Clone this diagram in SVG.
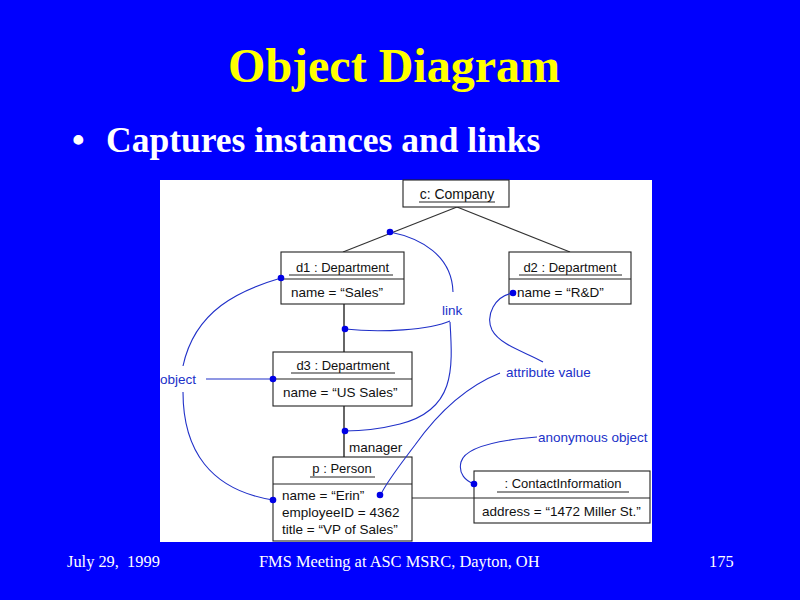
<svg xmlns="http://www.w3.org/2000/svg" width="800" height="600" viewBox="0 0 800 600">
<style>
.box{fill:#fff;stroke:#222;stroke-width:1.1}
.div{stroke:#222;stroke-width:1.1}
.ul{stroke:#222;stroke-width:1}
.t{font-family:"Liberation Sans",Arial,sans-serif;font-size:13.5px;fill:#111}
.tt{font-family:"Liberation Sans",Arial,sans-serif;font-size:13px;fill:#111;text-anchor:middle}
.lab{font-family:"Liberation Sans",Arial,sans-serif;font-size:13.5px;fill:#2030c8}
.link{stroke:#333;stroke-width:1.2;fill:none}
.vlink{stroke:#666;stroke-width:2;fill:none}
.ann{stroke:#2030c8;stroke-width:1.1;fill:none}
.dot{fill:#0000e6}
.foot{font-family:"Liberation Serif","Times New Roman",serif;font-size:16.4px;fill:#fff}
</style>
<rect x="0" y="0" width="800" height="600" fill="#0000fe"/>
<text x="394" y="82" text-anchor="middle" font-family="Liberation Serif,'Times New Roman',serif" font-weight="bold" font-size="48" fill="#ffff00">Object Diagram</text>
<text x="72" y="152" font-family="Liberation Serif,'Times New Roman',serif" font-weight="bold" font-size="36" fill="#fff">•</text>
<text x="106" y="152" font-family="Liberation Serif,'Times New Roman',serif" font-weight="bold" font-size="35.5" fill="#fff">Captures instances and links</text>
<rect x="160" y="180" width="492" height="362" fill="#fff"/>

<g id="connectors">
<line class="link" x1="457" y1="207" x2="343" y2="252"/>
<line class="link" x1="457" y1="207" x2="570" y2="252"/>
<line class="vlink" x1="344" y1="304" x2="344" y2="352"/>
<line class="vlink" x1="344" y1="406" x2="344" y2="457"/>
<line class="link" x1="412" y1="498" x2="474" y2="498"/>
<text class="t" x="349" y="452">manager</text>
</g>

<g id="c-company">
<rect class="box" x="403" y="180" width="106" height="27"/>
<text class="tt" x="457" y="199" style="font-size:14px">c: Company</text>
<line class="ul" x1="419" y1="202" x2="495" y2="202"/>
</g>

<g id="d1">
<rect class="box" x="281" y="252" width="123" height="52"/>
<line class="div" x1="281" y1="279" x2="404" y2="279"/>
<text class="tt" x="342.5" y="271.5">d1 : Department</text>
<line class="ul" x1="289" y1="275" x2="393" y2="275"/>
<text class="t" x="291" y="297">name = “Sales”</text>
</g>

<g id="d2">
<rect class="box" x="509" y="252" width="122" height="52"/>
<line class="div" x1="509" y1="279" x2="631" y2="279"/>
<text class="tt" x="570" y="271.5">d2 : Department</text>
<line class="ul" x1="519" y1="275" x2="622" y2="275"/>
<text class="t" x="517" y="297">name = “R&amp;D”</text>
</g>

<g id="d3">
<rect class="box" x="273" y="352" width="139" height="54"/>
<line class="div" x1="273" y1="379" x2="412" y2="379"/>
<text class="tt" x="343" y="370">d3 : Department</text>
<line class="ul" x1="291" y1="373" x2="395" y2="373"/>
<text class="t" x="283" y="397">name = “US Sales”</text>
</g>

<g id="p">
<rect class="box" x="273" y="457" width="139" height="84"/>
<line class="div" x1="273" y1="484" x2="412" y2="484"/>
<text class="tt" x="342" y="473">p : Person</text>
<line class="ul" x1="310" y1="477" x2="375" y2="477"/>
<text class="t" x="282" y="500">name = “Erin”</text>
<text class="t" x="282" y="517">employeeID = 4362</text>
<text class="t" x="282" y="534">title = “VP of Sales”</text>
</g>

<g id="contact">
<rect class="box" x="474" y="471" width="176" height="52"/>
<line class="div" x1="474" y1="498" x2="650" y2="498"/>
<text class="tt" x="563" y="488">: ContactInformation</text>
<line class="ul" x1="497" y1="492" x2="629" y2="492"/>
<text class="t" x="482" y="516">address = “1472 Miller St.”</text>
</g>

<g id="annotations">
<path class="ann" d="M390,232 C420,238 452,255 453,292"/>
<path class="ann" d="M345,329 C380,333 430,330 450,321"/>
<path class="ann" d="M450,322 C453,370 455,410 400,424 C380,429 360,431 345,431"/>
<path class="ann" d="M513,293 C495,296 485,315 492,330 C500,345 525,352 543,362"/>
<path class="ann" d="M500,373 C470,385 440,410 415,445 C400,465 388,480 381,494"/>
<path class="ann" d="M537,437 C500,440 465,447 461,462 C458,474 466,481 474,484"/>
<path class="ann" d="M281,278 C240,290 195,310 183,366"/>
<path class="ann" d="M183,392 C183,450 210,490 273,500"/>
<line class="ann" x1="206" y1="379" x2="273" y2="379"/>
<text class="lab" x="442" y="315">link</text>
<text class="lab" x="160" y="384">object</text>
<text class="lab" x="506" y="377">attribute value</text>
<text class="lab" x="538" y="442">anonymous object</text>
<circle class="dot" cx="390" cy="232" r="3.3"/>
<circle class="dot" cx="281" cy="278" r="3.3"/>
<circle class="dot" cx="513" cy="293" r="3.3"/>
<circle class="dot" cx="345" cy="329" r="3.3"/>
<circle class="dot" cx="273" cy="379" r="3.3"/>
<circle class="dot" cx="345" cy="431" r="3.3"/>
<circle class="dot" cx="380" cy="495" r="3.3"/>
<circle class="dot" cx="273" cy="500" r="3.3"/>
<circle class="dot" cx="474" cy="484" r="3.3"/>
</g>

<text class="foot" x="67" y="567" xml:space="preserve">July 29,  1999</text>
<text class="foot" x="259" y="567">FMS Meeting at ASC MSRC, Dayton, OH</text>
<text class="foot" x="709" y="567">175</text>
</svg>
